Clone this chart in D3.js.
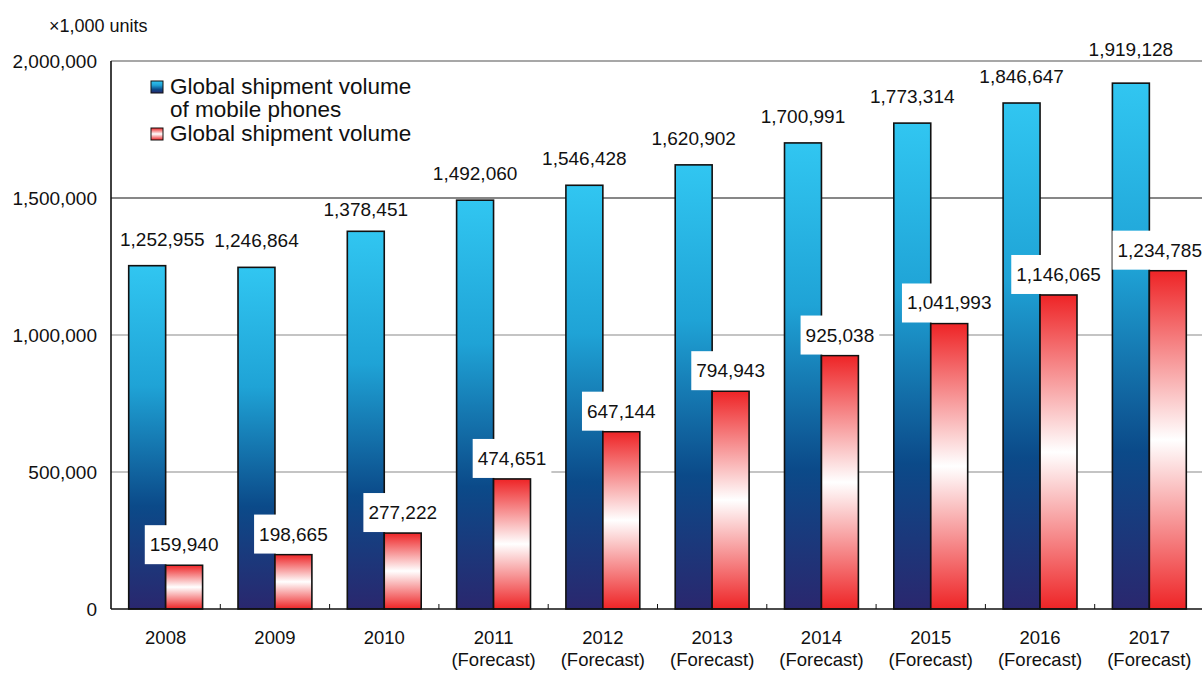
<!DOCTYPE html>
<html>
<head>
<meta charset="utf-8">
<script src="https://cdnjs.cloudflare.com/ajax/libs/d3/7.8.5/d3.min.js"></script>
<style>
  body { margin: 0; background: #fff; }
  text { font-family: "Liberation Sans", Arial, sans-serif; fill: #111; }
</style>
</head>
<body>
<div id="chart-area"></div>
<script>
// chart data
let years = ["2008", "2009", "2010", "2011", "2012", "2013", "2014", "2015", "2016", "2017"];
let yearNotes = ["", "", "", "(Forecast)", "(Forecast)", "(Forecast)", "(Forecast)", "(Forecast)", "(Forecast)", "(Forecast)"];
let mobilePhones = [1252955, 1246864, 1378451, 1492060, 1546428, 1620902, 1700991, 1773314, 1846647, 1919128];
let smartPhones = [159940, 198665, 277222, 474651, 647144, 794943, 925038, 1041993, 1146065, 1234785];
let yTicks = [0, 500000, 1000000, 1500000, 2000000];
let legendLabels = [["Global shipment volume", "of mobile phones"], ["Global shipment volume"]];

drawChart();

function drawChart() {
	let W = 1202, H = 673;
	let margin = {top: 61, right: -2, bottom: 64, left: 111};
	let width = W - margin.left - margin.right,
		height = H - margin.top - margin.bottom;

	let svg = d3.select("#chart-area").append("svg")
		.attr("width", W)
		.attr("height", H);

	// gradients
	let defs = svg.append("defs");
	let blueGrad = defs.append("linearGradient")
		.attr("id", "blueGrad")
		.attr("x1", 0).attr("y1", 0).attr("x2", 0).attr("y2", 1);
	[[0, "#31c6f1"], [0.35, "#1fa3d6"], [0.7, "#0b4a89"], [1, "#2a276e"]].forEach(s => {
		blueGrad.append("stop").attr("offset", s[0]).attr("stop-color", s[1]);
	});
	let redGrad = defs.append("linearGradient")
		.attr("id", "redGrad")
		.attr("x1", 0).attr("y1", 0).attr("x2", 0).attr("y2", 1);
	[[0, "#ee2426"], [0.5, "#ffffff"], [1, "#ee2426"]].forEach(s => {
		redGrad.append("stop").attr("offset", s[0]).attr("stop-color", s[1]);
	});

	let g = svg.append("g")
		.attr("transform", "translate(" + margin.left + "," + margin.top + ")");

	let x = d3.scaleBand()
		.domain(years)
		.range([0, width])
		.padding(0);

	let y = d3.scaleLinear()
		.domain([0, 2000000])
		.range([height, 0]);

	let barW = x.bandwidth() * 0.338;

	// gridlines
	g.selectAll(".grid").data(yTicks.filter(d => d > 0))
		.enter().append("line")
		.attr("class", "grid")
		.attr("x1", 0).attr("x2", width)
		.attr("y1", d => y(d)).attr("y2", d => y(d))
		.attr("stroke", d => d === 1500000 ? "#111" : "#8a8a8a")
		.attr("stroke-width", 1.2);

	// y tick labels
	g.selectAll(".ylab").data(yTicks)
		.enter().append("text")
		.attr("class", "ylab")
		.attr("x", -14)
		.attr("y", d => y(d) + 7)
		.attr("text-anchor", "end")
		.style("font-size", "19px")
		.text(d => d3.format(",")(d));

	svg.append("text")
		.attr("x", 49).attr("y", 32)
		.style("font-size", "18px")
		.text("×1,000 units");

	let data = years.map((yr, i) => ({year: yr, mobile: mobilePhones[i], smart: smartPhones[i]}));

	// blue bars
	g.selectAll(".bar-mobile").data(data)
		.enter().append("rect")
		.attr("class", "bar-mobile")
		.attr("x", d => x(d.year) + x.bandwidth() / 2 - barW)
		.attr("y", d => y(d.mobile))
		.attr("width", barW)
		.attr("height", d => height - y(d.mobile))
		.attr("fill", "url(#blueGrad)")
		.attr("stroke", "#111")
		.attr("stroke-width", 1.6);

	// red bars
	g.selectAll(".bar-smart").data(data)
		.enter().append("rect")
		.attr("class", "bar-smart")
		.attr("x", d => x(d.year) + x.bandwidth() / 2)
		.attr("y", d => y(d.smart))
		.attr("width", barW)
		.attr("height", d => height - y(d.smart))
		.attr("fill", "url(#redGrad)")
		.attr("stroke", "#111")
		.attr("stroke-width", 1.6);

	// keeps a label inside the plot horizontally
	function clampLabel(sel) {
		sel.each(function() {
			let node = d3.select(this);
			let b = this.getBBox();
			let cx = +node.attr("x");
			if (b.x < 9) cx += 9 - b.x;
			if (b.x + b.width > width - 2) cx -= (b.x + b.width) - (width - 2);
			node.attr("x", cx);
		});
	}

	// baseline for a label above a bar, moved off any gridline it would cross
	function labelBaseline(top) {
		let b = top - 20;
		yTicks.forEach(t => {
			let L = y(t);
			if (L > b - 15 && L < b + 3) {
				let down = L + 18;
				b = (down <= top - 8) ? down : L - 5;
			}
		});
		return b;
	}

	// blue value labels
	g.selectAll(".lab-mobile").data(data)
		.enter().append("text")
		.attr("class", "lab-mobile")
		.attr("x", d => x(d.year) + x.bandwidth() / 2 - barW / 2)
		.attr("y", d => labelBaseline(y(d.mobile)))
		.attr("text-anchor", "middle")
		.style("font-size", "19px")
		.text(d => d3.format(",")(d.mobile))
		.call(clampLabel);

	// red value labels with white boxes
	let redLabs = g.selectAll(".lab-smart").data(data)
		.enter().append("g")
		.attr("class", "lab-smart")
		.attr("transform", d => "translate(0," + y(d.smart) + ")");
	redLabs.append("rect")
		.attr("fill", "#fff");
	redLabs.append("text")
		.attr("x", d => x(d.year) + x.bandwidth() / 2 + barW / 2)
		.attr("y", -14)
		.attr("text-anchor", "middle")
		.style("font-size", "19px")
		.text(d => d3.format(",")(d.smart))
		.call(clampLabel);
	redLabs.each(function() {
		let t = d3.select(this).select("text").node().getBBox();
		d3.select(this).select("rect")
			.attr("x", t.x - 5).attr("y", -40)
			.attr("width", t.width + 10).attr("height", 39);
	});

	// axes lines
	g.append("line")
		.attr("x1", 0).attr("x2", width)
		.attr("y1", 0).attr("y2", 0)
		.attr("stroke", "#8a8a8a").attr("stroke-width", 1.2);
	g.append("line")
		.attr("x1", 0).attr("x2", 0)
		.attr("y1", 0).attr("y2", height)
		.attr("stroke", "#111").attr("stroke-width", 1.6);
	g.append("line")
		.attr("x1", 0).attr("x2", width)
		.attr("y1", height).attr("y2", height)
		.attr("stroke", "#111").attr("stroke-width", 1.6);

	// small ticks between categories
	g.selectAll(".xtick").data(years.slice(1))
		.enter().append("line")
		.attr("class", "xtick")
		.attr("x1", d => x(d)).attr("x2", d => x(d))
		.attr("y1", height).attr("y2", height - 5)
		.attr("stroke", "#111").attr("stroke-width", 1);

	// category labels
	let xl = g.selectAll(".xlab").data(years)
		.enter().append("text")
		.attr("class", "xlab")
		.attr("text-anchor", "middle")
		.style("font-size", "18.5px");
	xl.append("tspan")
		.attr("x", d => x(d) + x.bandwidth() / 2)
		.attr("y", height + 35)
		.text(d => d);
	xl.append("tspan")
		.attr("x", d => x(d) + x.bandwidth() / 2)
		.attr("y", height + 57)
		.text((d, i) => yearNotes[i]);

	// legend
	let legend = svg.append("g").attr("transform", "translate(151,0)");
	let lgItems = [
		{grad: "url(#blueGrad)", boxY: 81, lines: legendLabels[0], lineY: [94, 117]},
		{grad: "url(#redGrad)", boxY: 128, lines: legendLabels[1], lineY: [141]}
	];
	lgItems.forEach(item => {
		legend.append("rect")
			.attr("x", 0).attr("y", item.boxY)
			.attr("width", 12).attr("height", 12)
			.attr("fill", item.grad)
			.attr("stroke", "#111").attr("stroke-width", 1);
		item.lines.forEach((ln, k) => {
			legend.append("text")
				.attr("x", 19).attr("y", item.lineY[k])
				.style("font-size", "22.5px")
				.text(ln);
		});
	});
}
</script>
</body>
</html>
